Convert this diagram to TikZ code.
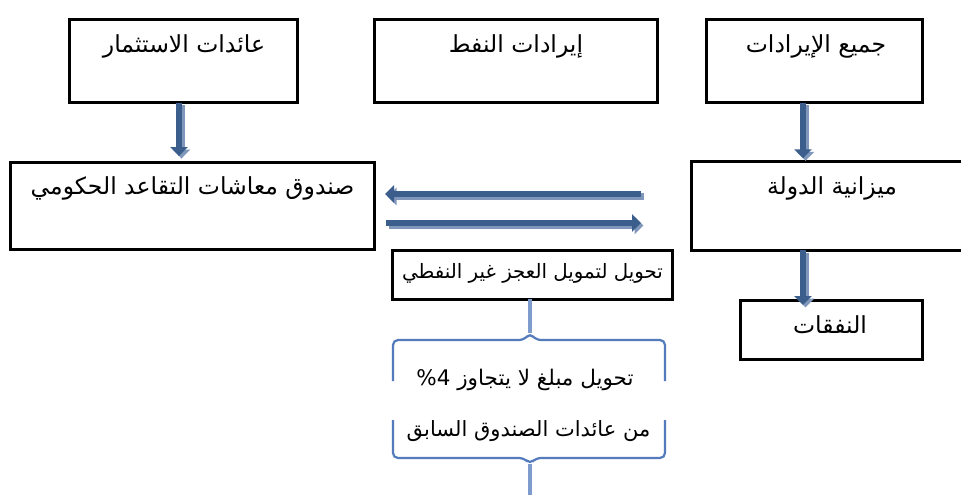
\documentclass[tikz,border=0pt]{standalone}
\usepackage{fontspec}
\newfontfamily\arabicfont[Script=Arabic]{DejaVu Sans}
\TeXXeTstate=1
\usetikzlibrary{arrows.meta}
\definecolor{arrdark}{RGB}{59,94,140}
\definecolor{arrlight}{RGB}{128,150,186}
\definecolor{bracecol}{RGB}{84,124,188}
\definecolor{conncol}{RGB}{125,155,205}
\begin{document}
\begin{tikzpicture}[x=1pt,y=-1pt,
  box/.style={draw=black, line width=3pt, inner sep=0pt, outer sep=0pt},
  lbl/.style={font={\arabicfont\fontsize{23.5}{28}\selectfont}, anchor=base, inner sep=0pt},
  lblsmall/.style={lbl, font={\arabicfont\fontsize{#1}{24}\selectfont}},
  fat/.style={line width=6.5pt, draw=arrdark, -{Triangle[width=17pt,length=9pt]},
    preaction={draw=arrlight, line width=6.5pt, -{Triangle[width=17pt,length=9pt]},
      transform canvas={shift={(2.5,2.5)}}}},
  bracestyle/.style={draw=bracecol, line width=2.2pt, rounded corners=5pt},
  conn/.style={draw=conncol, line width=3.5pt}]
\clip (0,0) rectangle (961,495);
\fill[white] (0,0) rectangle (961,495);

% boxes
\node[box, minimum width=228pt, minimum height=83pt] (b1) at (183,61) {};
\node[box, minimum width=282.6pt, minimum height=83pt] (b2) at (516,61) {};
\node[box, minimum width=215.8pt, minimum height=83pt] (b3) at (814.4,61) {};
\node[box, minimum width=363.5pt, minimum height=87.7pt] (b4) at (192.4,205.9) {};
\node[box, minimum width=283.5pt, minimum height=88.9pt] (b5) at (833.25,205.75) {};
\node[box, minimum width=181.5pt, minimum height=59.7pt] (b6) at (831.4,329.85) {};
\node[box, minimum width=280pt, minimum height=48.5pt] (b7) at (532.2,275) {};

% labels
\node[lbl] (t1) at (184,53) {\beginR عائدات الاستثمار\endR};
\node[lbl] (t2) at (516,53) {\beginR إيرادات النفط\endR};
\node[lbl] (t3) at (816,53) {\beginR جميع الإيرادات\endR};
\node[lbl] (t4) at (192.5,194) {\beginR صندوق معاشات التقاعد الحكومي\endR};
\node[lbl] (t5) at (832,194) {\beginR ميزانية الدولة\endR};
\node[lbl] (t6) at (830,333) {\beginR النفقات\endR};
\node[lblsmall=19.8] (t7) at (532.5,278) {\beginR تحويل لتمويل العجز غير النفطي\endR};
\node[lblsmall=21.5] (t8) at (525,385) {\beginR تحويل مبلغ لا يتجاوز \beginL\%4\endL\endR};
\node[lblsmall=21] (t9) at (528.5,436) {\beginR من عائدات الصندوق السابق\endR};

% vertical arrows
\coordinate (v1a) at ([xshift=-4pt]b1.south);
\draw[fat, shorten >=6pt] (v1a) -- (v1a |- b4.north);
\coordinate (v3a) at ([xshift=-11.4pt]b3.south);
\draw[fat, shorten >=3pt] (v3a) -- (v3a |- b5.north);
\coordinate (v5a) at (v3a |- b5.south);
\draw[fat, shorten >=-5pt] (v5a) -- (v5a |- b6.north);

% horizontal arrows
\coordinate (h1s) at (641,194);
\coordinate (h1e) at (385,194);
\draw[fat] (h1s) -- (h1e);
\coordinate (h2s) at (386,223);
\coordinate (h2e) at (641,223);
\draw[fat] (h2s) -- (h2e);

% brace
\coordinate (bt) at (530,333);
\coordinate (bb) at (530,464);
\coordinate (bz) at (530,495);
\draw[conn] (b7.south -| bt) -- (bt);
\draw[conn] (bb) -- (bz);
\draw[bracestyle] (393,381) -- (393,340) -- (524,340) -- (bt) -- (536,340) -- (665,340) -- (665,381);
\draw[bracestyle] (393,420) -- (393,458) -- (524,458) -- (bb) -- (536,458) -- (665,458) -- (665,420);
\end{tikzpicture}
\end{document}
